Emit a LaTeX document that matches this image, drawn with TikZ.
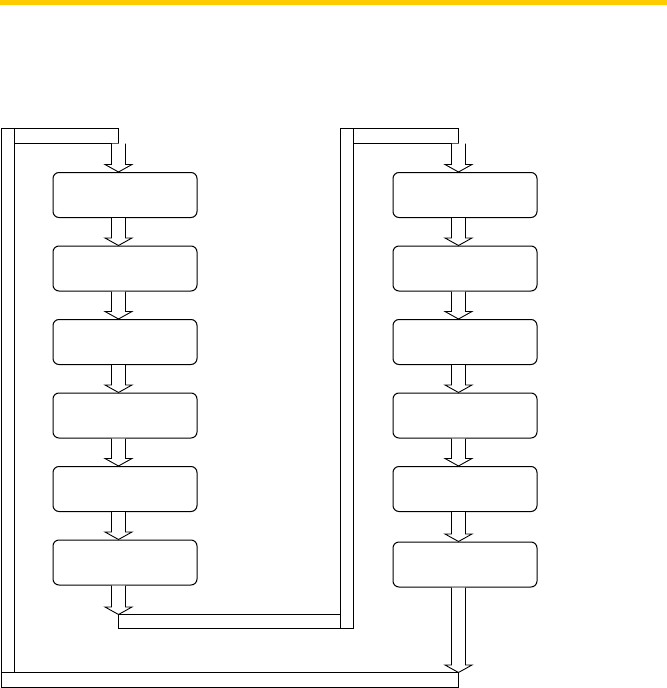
\documentclass[tikz,border=0pt]{standalone}
\usetikzlibrary{calc}
\definecolor{topyellow}{HTML}{FFCC00}
\tikzset{
  stepbox/.style={draw, line width=1bp, rounded corners=6bp, minimum width=144bp,
    minimum height=45bp, inner sep=0pt, fill=white},
  pipe/.style={draw, line width=1bp, fill=white},
  blkarr/.style={draw, line width=0.9bp, fill=white, line join=miter},
}
% hollow block arrow from point #1 down to point #2 (same x)
\newcommand\blkarrow[2]{%
  \draw[blkarr] ($(#1)+(-7,0)$) -- ($(#2)+(-7,-7.5)$) -- ($(#2)+(-13.5,-7.5)$)
    -- (#2) -- ($(#2)+(13.5,-7.5)$) -- ($(#2)+(7,-7.5)$) -- ($(#1)+(7,0)$);}
\begin{document}
\begin{tikzpicture}[x=1bp,y=-1bp]
\useasboundingbox (0,0) rectangle (667,688);
\fill[topyellow] (0,0) rectangle (667,4.7);

% pipes (loops)
\draw[pipe] (1,128.5) rectangle (118.5,143.5);
\draw[pipe] (1,128.5) rectangle (14,672.5);
\draw[pipe] (340.5,128.5) rectangle (458.5,143.5);
\draw[pipe] (118.5,614.5) rectangle (353.5,628.5);
\draw[pipe] (340.5,128.5) rectangle (353.5,628.5);
\draw[pipe] (1,672.5) rectangle (458.5,687);

% boxes
\foreach \i/\y in {1/195,2/268.5,3/342,4/415.5,5/489,6/562.5}{
  \node[stepbox] (L\i) at (125,\y) {};
}
\foreach \i/\y in {1/195,2/268.5,3/342,4/415.5,5/489,6/564.5}{
  \node[stepbox] (R\i) at (465,\y) {};
}

% connector end points
\coordinate (Ltop) at (118.5,143.5);
\coordinate (Lbot) at (118.5,614.5);
\coordinate (Rtop) at (458.5,143.5);
\coordinate (Rbot) at (458.5,672.5);

% arrows
\path ($(L1.north)+(-6.5,0)$) coordinate (L1n);
\blkarrow{Ltop}{L1n}
\foreach \a/\b in {1/2,2/3,3/4,4/5,5/6}{
  \path ($(L\a.south)+(-6.5,0)$) coordinate (s) ($(L\b.north)+(-6.5,0)$) coordinate (t);
  \blkarrow{s}{t}
  \path ($(R\a.south)+(-6.5,0)$) coordinate (s) ($(R\b.north)+(-6.5,0)$) coordinate (t);
  \blkarrow{s}{t}
}
\path ($(L6.south)+(-6.5,0)$) coordinate (L6s);
\blkarrow{L6s}{Lbot}
\path ($(R1.north)+(-6.5,0)$) coordinate (R1n);
\blkarrow{Rtop}{R1n}
\path ($(R6.south)+(-6.5,0)$) coordinate (R6s);
\blkarrow{R6s}{Rbot}
\end{tikzpicture}
\end{document}
